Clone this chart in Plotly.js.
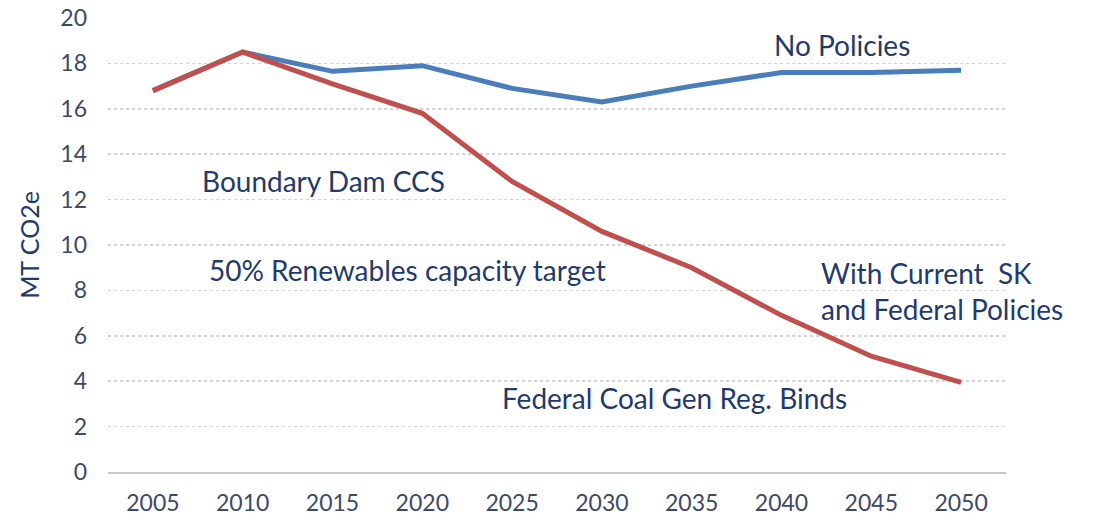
<!DOCTYPE html>
<html>
<head>
<meta charset="utf-8">
<script src="https://cdn.plot.ly/plotly-3.0.1.min.js"></script>
<style>html,body{margin:0;padding:0;background:#fff;}#chart{width:1099px;height:524px;}</style>
</head>
<body>
<div id="chart"></div>
<script>
const years = ["2005","2010","2015","2020","2025","2030","2035","2040","2045","2050"];
const noPolicies = [16.8, 18.5, 17.65, 17.9, 16.9, 16.3, 17.0, 17.6, 17.6, 17.7];
const currentPolicies = [16.8, 18.5, 17.1, 15.8, 12.8, 10.6, 9.0, 6.9, 5.1, 3.95];
const yTicks = [0,2,4,6,8,10,12,14,16,18,20];

const navy = "#1f3a6b";
const tickCol = "#3c4a66";
const fontFam = "Lato, 'Open Sans', sans-serif";

const traces = [
  {x: years, y: noPolicies, type: "scatter", mode: "lines", name: "No Policies",
   line: {color: "#4a7ebb", width: 5}, hoverinfo: "skip"},
  {x: years, y: currentPolicies, type: "scatter", mode: "lines", name: "With Current SK and Federal Policies",
   line: {color: "#c0504d", width: 5}, hoverinfo: "skip"}
];

function ann(text, x, y) {
  return {text: text, xref: "paper", yref: "paper", x: x, y: y, xanchor: "left", yanchor: "middle",
    showarrow: false, align: "left", font: {family: fontFam, size: 28, color: navy}};
}

const layout = {
  width: 1099, height: 524,
  margin: {l: 108, r: 93, t: 18, b: 52},
  paper_bgcolor: "#fff", plot_bgcolor: "#fff",
  showlegend: false,
  font: {family: fontFam},
  xaxis: {type: "category", range: [-0.5, 9.5], showgrid: false, zeroline: false, showline: true,
    linecolor: "#c8c8c8", linewidth: 1.5,
    ticks: "", tickfont: {family: fontFam, size: 23, color: tickCol}, ticklabelstandoff: 10},
  yaxis: {range: [0, 20], tickvals: yTicks, showgrid: true, gridcolor: "#d4d4d4", griddash: "dot", gridwidth: 1.5,
    zeroline: false, showline: false, ticks: "", tickfont: {family: fontFam, size: 23, color: tickCol},
    ticklabelstandoff: 20,
    title: {text: "MT CO2e", font: {family: fontFam, size: 25, color: navy}, standoff: 13}},
  annotations: [
    ann("No Policies", 0.739, 0.9405),
    ann("Boundary Dam CCS", 0.1025, 0.641),
    ann("50% Renewables capacity target", 0.110, 0.445),
    ann("With Current  SK<br>and Federal Policies", 0.792, 0.3987),
    ann("Federal Coal Gen Reg. Binds", 0.436, 0.163)
  ]
};

Plotly.newPlot("chart", traces, layout, {displayModeBar: false, staticPlot: true});
</script>
</body>
</html>
